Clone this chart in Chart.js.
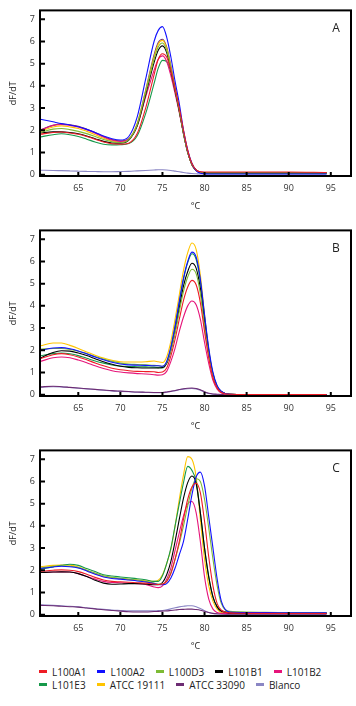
<!DOCTYPE html>
<html>
<head>
<meta charset="utf-8">
<script src="https://cdn.jsdelivr.net/npm/chart.js@4.4.1/dist/chart.umd.min.js"></script>
<style>
  body { margin: 0; background: #fff; }
  #wrap { position: relative; width: 356px; height: 706px; }
  canvas { position: absolute; left: 0; }
  #legend { position: absolute; left: 39px; top: 665px; font: 10px "Open Sans", sans-serif; color: #222; }
  .row { display: flex; height: 13px; align-items: center; }
  .item { display: flex; align-items: center; margin-right: 11px; }
  .swatch { width: 8px; height: 2.5px; margin-right: 5px; }
</style>
</head>
<body>
<div id="wrap">
  <canvas id="chartA" width="356" height="220" style="top:0"></canvas>
  <canvas id="chartB" width="356" height="220" style="top:220px"></canvas>
  <canvas id="chartC" width="356" height="220" style="top:440px"></canvas>
  <div id="legend"></div>
</div>
<script>
// melt curve temperatures (°C), shared by all three panels
var temps = [60.5, 62, 63, 64, 65, 66, 67, 68, 69, 70, 71, 72, 73, 74, 74.5, 75, 75.5, 76, 76.5, 77,
             77.5, 78, 78.5, 79, 79.5, 80, 80.5, 81, 81.5, 82, 83, 85, 90, 94.5];

var seriesNames = ["L100A1", "L100A2", "L100D3", "L101B1", "L101B2", "L101E3", "ATCC 19111", "ATCC 33090", "Blanco"];
var seriesColors = ["#ee1c25", "#1010ff", "#7dbb35", "#000000", "#e6157a", "#16994a", "#ffc400", "#6d2c73", "#8a86c4"];

var xTicks = [65, 70, 75, 80, 85, 90, 95];
var yTicks = [0, 1, 2, 3, 4, 5, 6, 7];

// panel A, one row per series (same order as seriesNames)
var curvesA = [
  [1.82, 1.9, 1.92, 1.88, 1.82, 1.72, 1.6, 1.47, 1.39, 1.37, 1.42, 1.85, 3.0, 4.5, 5.2, 5.45, 5.3, 4.7, 3.9, 3.0, 2.0, 1.1, 0.5, 0.22, 0.13, 0.12, 0.12, 0.12, 0.12, 0.12, 0.12, 0.12, 0.12, 0.1],
  [2.5, 2.38, 2.3, 2.24, 2.16, 2.04, 1.9, 1.74, 1.62, 1.56, 1.72, 2.6, 4.3, 6.0, 6.5, 6.67, 6.2, 5.3, 4.2, 3.2, 2.0, 1.1, 0.5, 0.18, 0.06, 0.04, 0.03, 0.03, 0.03, 0.03, 0.03, 0.03, 0.03, 0.03],
  [1.9, 2.05, 2.08, 2.03, 1.95, 1.85, 1.72, 1.58, 1.48, 1.44, 1.58, 2.25, 3.7, 5.2, 5.75, 5.93, 5.6, 4.8, 3.85, 2.9, 1.85, 1.0, 0.45, 0.2, 0.1, 0.08, 0.08, 0.08, 0.08, 0.08, 0.08, 0.08, 0.08, 0.08],
  [1.88, 1.93, 1.93, 1.9, 1.84, 1.74, 1.62, 1.5, 1.43, 1.42, 1.56, 2.2, 3.6, 5.05, 5.6, 5.8, 5.5, 4.7, 3.8, 2.85, 1.85, 1.0, 0.45, 0.2, 0.1, 0.08, 0.08, 0.08, 0.08, 0.08, 0.08, 0.08, 0.08, 0.08],
  [2.0, 2.22, 2.26, 2.22, 2.15, 2.02, 1.87, 1.7, 1.56, 1.5, 1.6, 2.2, 3.5, 4.7, 5.2, 5.35, 5.1, 4.45, 3.65, 2.8, 1.85, 1.0, 0.45, 0.2, 0.12, 0.1, 0.1, 0.1, 0.1, 0.1, 0.1, 0.1, 0.1, 0.1],
  [1.7, 1.8, 1.84, 1.8, 1.72, 1.6, 1.47, 1.37, 1.34, 1.35, 1.4, 1.75, 2.75, 4.1, 4.8, 5.15, 5.1, 4.6, 3.8, 2.95, 1.95, 1.05, 0.5, 0.2, 0.1, 0.07, 0.06, 0.06, 0.06, 0.06, 0.06, 0.06, 0.06, 0.06],
  [1.95, 2.15, 2.2, 2.15, 2.08, 1.95, 1.8, 1.64, 1.52, 1.47, 1.6, 2.3, 3.75, 5.3, 5.88, 6.05, 5.7, 4.85, 3.9, 2.9, 1.85, 1.0, 0.45, 0.2, 0.1, 0.08, 0.08, 0.08, 0.08, 0.08, 0.08, 0.08, 0.08, 0.08],
  [2.02, 2.22, 2.28, 2.25, 2.18, 2.05, 1.9, 1.72, 1.58, 1.52, 1.62, 2.3, 3.8, 5.4, 5.95, 6.1, 5.75, 4.9, 3.9, 2.9, 1.85, 1.0, 0.45, 0.2, 0.12, 0.1, 0.1, 0.1, 0.1, 0.1, 0.1, 0.1, 0.1, 0.08],
  [0.2, 0.19, 0.18, 0.17, 0.16, 0.15, 0.14, 0.13, 0.13, 0.14, 0.15, 0.17, 0.19, 0.21, 0.22, 0.22, 0.21, 0.19, 0.16, 0.13, 0.1, 0.07, 0.05, 0.04, 0.03, 0.03, 0.03, 0.03, 0.03, 0.03, 0.03, 0.03, 0.03, 0.03]
];

// panel B
var curvesB = [
  [1.62, 1.8, 1.85, 1.8, 1.7, 1.57, 1.43, 1.3, 1.19, 1.12, 1.08, 1.05, 1.04, 1.03, 1.0, 1.02, 1.2, 1.75, 2.5, 3.4, 4.25, 4.85, 5.15, 4.95, 4.15, 2.85, 1.65, 0.75, 0.3, 0.1, 0.02, 0.01, 0.01, 0.01],
  [2.0, 2.1, 2.12, 2.07, 1.97, 1.84, 1.7, 1.57, 1.46, 1.38, 1.34, 1.33, 1.32, 1.3, 1.3, 1.28, 1.5, 2.15, 3.1, 4.2, 5.25, 6.0, 6.42, 6.2, 5.2, 3.6, 2.1, 1.0, 0.4, 0.15, 0.02, 0.01, 0.01, 0.01],
  [2.05, 2.08, 2.08, 2.04, 1.96, 1.85, 1.72, 1.6, 1.5, 1.42, 1.38, 1.36, 1.34, 1.32, 1.3, 1.28, 1.45, 2.0, 2.8, 3.75, 4.65, 5.3, 5.65, 5.45, 4.55, 3.1, 1.8, 0.85, 0.33, 0.12, 0.02, 0.01, 0.01, 0.01],
  [1.65, 1.9, 1.98, 1.96, 1.88, 1.76, 1.62, 1.48, 1.37, 1.28, 1.23, 1.21, 1.2, 1.2, 1.2, 1.22, 1.4, 2.0, 2.85, 3.9, 4.9, 5.55, 5.92, 5.7, 4.8, 3.3, 1.9, 0.9, 0.35, 0.13, 0.02, 0.01, 0.01, 0.01],
  [1.5, 1.66, 1.7, 1.66, 1.56, 1.44, 1.3, 1.18, 1.08, 1.02, 0.98, 0.95, 0.93, 0.9, 0.88, 0.9, 1.05, 1.5, 2.1, 2.85, 3.5, 4.0, 4.22, 4.05, 3.4, 2.35, 1.4, 0.65, 0.25, 0.08, 0.02, 0.01, 0.01, 0.01],
  [1.75, 1.85, 1.88, 1.84, 1.76, 1.64, 1.52, 1.42, 1.34, 1.29, 1.27, 1.26, 1.25, 1.24, 1.22, 1.2, 1.45, 2.1, 3.05, 4.15, 5.2, 5.95, 6.35, 6.1, 5.1, 3.5, 2.0, 0.95, 0.38, 0.14, 0.02, 0.01, 0.01, 0.01],
  [2.2, 2.33, 2.33, 2.22, 2.08, 1.92, 1.78, 1.65, 1.55, 1.48, 1.47, 1.47, 1.48, 1.52, 1.48, 1.45, 1.7, 2.4, 3.4, 4.5, 5.6, 6.4, 6.83, 6.55, 5.4, 3.6, 2.0, 0.9, 0.35, 0.12, 0.02, 0.01, 0.01, 0.01],
  [0.35, 0.38, 0.36, 0.33, 0.3, 0.27, 0.24, 0.21, 0.18, 0.16, 0.14, 0.12, 0.11, 0.1, 0.1, 0.1, 0.12, 0.15, 0.19, 0.23, 0.27, 0.29, 0.3, 0.28, 0.22, 0.13, 0.06, 0.03, 0.02, 0.01, 0.01, 0.01, 0.01, 0.01],
  [0.33, 0.36, 0.35, 0.32, 0.29, 0.26, 0.23, 0.2, 0.17, 0.15, 0.13, 0.11, 0.1, 0.09, 0.09, 0.09, 0.11, 0.14, 0.18, 0.22, 0.25, 0.27, 0.28, 0.26, 0.2, 0.12, 0.05, 0.02, 0.01, 0.01, 0.01, 0.01, 0.01, 0.01]
];

// panel C
var curvesC = [
  [1.95, 2.0, 2.02, 2.0, 1.94, 1.82, 1.68, 1.56, 1.5, 1.48, 1.46, 1.44, 1.42, 1.38, 1.36, 1.38, 1.5, 1.85, 2.5, 3.3, 4.3, 5.2, 5.75, 5.92, 5.5, 4.2, 2.6, 1.3, 0.5, 0.2, 0.08, 0.06, 0.05, 0.05],
  [2.08, 2.15, 2.18, 2.16, 2.1, 1.97, 1.82, 1.7, 1.63, 1.6, 1.56, 1.52, 1.47, 1.4, 1.36, 1.35, 1.4, 1.65, 2.1, 2.7, 3.3, 4.3, 5.4, 6.2, 6.42, 5.8, 4.4, 3.0, 1.6, 0.6, 0.12, 0.1, 0.08, 0.08],
  [2.1, 2.18, 2.2, 2.18, 2.12, 2.0, 1.88, 1.75, 1.68, 1.64, 1.6, 1.56, 1.5, 1.42, 1.38, 1.38, 1.5, 1.9, 2.5, 3.2, 4.0, 4.9, 5.7, 6.12, 6.0, 5.2, 3.9, 2.5, 1.3, 0.5, 0.15, 0.12, 0.1, 0.1],
  [1.9, 1.92, 1.93, 1.92, 1.85, 1.72, 1.55, 1.42, 1.37, 1.38, 1.4, 1.4, 1.38, 1.35, 1.35, 1.45, 1.8, 2.4, 3.3, 4.3, 5.25, 5.95, 6.25, 5.9, 4.6, 3.0, 1.7, 0.8, 0.35, 0.15, 0.08, 0.07, 0.07, 0.07],
  [1.9, 1.92, 1.93, 1.92, 1.85, 1.72, 1.6, 1.5, 1.45, 1.44, 1.42, 1.4, 1.36, 1.25, 1.22, 1.3, 1.6, 2.1, 2.9, 3.7, 4.45, 5.0, 5.1, 4.6, 3.3, 1.7, 0.7, 0.25, 0.1, 0.06, 0.05, 0.05, 0.05, 0.05],
  [2.05, 2.15, 2.22, 2.27, 2.22, 2.08, 1.94, 1.8, 1.74, 1.7, 1.66, 1.62, 1.57, 1.5, 1.5, 1.75, 2.3, 3.0, 4.0, 5.0, 5.95, 6.68, 6.5, 6.0, 4.6, 3.0, 1.7, 0.8, 0.35, 0.18, 0.12, 0.1, 0.08, 0.08],
  [2.16, 2.22, 2.24, 2.23, 2.15, 2.0, 1.85, 1.72, 1.66, 1.62, 1.58, 1.56, 1.53, 1.5, 1.55, 1.8, 2.3, 2.95, 4.0, 5.2, 6.3, 7.12, 7.0, 6.2, 4.3, 2.5, 1.3, 0.6, 0.25, 0.1, 0.05, 0.05, 0.05, 0.05],
  [0.42, 0.4, 0.38, 0.36, 0.34, 0.3, 0.26, 0.22, 0.19, 0.16, 0.13, 0.12, 0.12, 0.14, 0.15, 0.16, 0.17, 0.19, 0.21, 0.23, 0.24, 0.25, 0.25, 0.23, 0.2, 0.15, 0.1, 0.06, 0.04, 0.03, 0.02, 0.02, 0.02, 0.02],
  [0.45, 0.42, 0.4, 0.38, 0.35, 0.31, 0.27, 0.24, 0.21, 0.19, 0.17, 0.17, 0.17, 0.17, 0.18, 0.19, 0.22, 0.26, 0.31, 0.35, 0.38, 0.4, 0.4, 0.36, 0.28, 0.18, 0.1, 0.05, 0.03, 0.03, 0.03, 0.03, 0.03, 0.03]
];

var fontFamily = '"Open Sans", sans-serif';

// box around the plot, inward tick marks and the panel letter
var framePlugin = {
  id: 'frame',
  afterDraw: function(chart, args, opts) {
    var ctx = chart.ctx, a = chart.chartArea;
    var xs = chart.scales.x, ys = chart.scales.y;
    ctx.save();
    ctx.strokeStyle = '#000';
    ctx.lineWidth = 2;
    ctx.strokeRect(a.left, a.top, a.right - a.left, a.bottom - a.top);
    ctx.beginPath();
    xs.ticks.forEach(function(t) {
      var px = xs.getPixelForValue(t.value);
      ctx.moveTo(px, a.bottom);
      ctx.lineTo(px, a.bottom - 4);
    });
    ys.ticks.forEach(function(t) {
      var py = ys.getPixelForValue(t.value);
      ctx.moveTo(a.left, py);
      ctx.lineTo(a.left + 5, py);
    });
    ctx.stroke();
    ctx.fillStyle = '#222';
    ctx.font = '12px ' + fontFamily;
    ctx.textAlign = 'center';
    ctx.textBaseline = 'middle';
    ctx.fillText(opts.letter, a.right - 15, a.top + 18);
    ctx.restore();
  }
};

function makeChart(id, curves, letter) {
  var datasets = seriesNames.map(function(name, i) {
    return {
      label: name,
      data: temps.map(function(t, j) { return { x: t, y: curves[i][j] }; }),
      borderColor: seriesColors[i],
      borderWidth: 1.1,
      pointRadius: 0,
      cubicInterpolationMode: 'monotone',
      fill: false
    };
  });

  return new Chart(document.getElementById(id), {
    type: 'line',
    data: { datasets: datasets },
    options: {
      responsive: false,
      animation: false,
      events: [],
      layout: { padding: { left: 0, right: 5, top: 7, bottom: 4 } },
      plugins: {
        legend: { display: false },
        tooltip: { enabled: false },
        frame: { letter: letter }
      },
      scales: {
        x: {
          type: 'linear',
          min: 60.45,
          max: 97.4,
          afterBuildTicks: function(s) { s.ticks = xTicks.map(function(v) { return { value: v }; }); },
          afterFit: function(s) { s.height = 40; },
          grid: { display: false, drawTicks: false },
          border: { display: false },
          ticks: { padding: 7, maxRotation: 0, color: '#333', font: { family: fontFamily, size: 9 } },
          title: { display: true, text: '°C', color: '#222', font: { family: fontFamily, size: 9 }, padding: { top: 0, bottom: 4 } }
        },
        y: {
          min: -0.06,
          max: 7.4,
          afterBuildTicks: function(s) { s.ticks = yTicks.map(function(v) { return { value: v }; }); },
          afterFit: function(s) { s.width = 40; },
          grid: { display: false, drawTicks: false },
          border: { display: false },
          ticks: { padding: 5, color: '#333', font: { family: fontFamily, size: 9 } },
          title: { display: true, text: 'dF/dT', color: '#222', font: { family: fontFamily, size: 9 }, padding: { top: 8, bottom: 0 } }
        }
      }
    },
    plugins: [framePlugin]
  });
}

makeChart('chartA', curvesA, 'A');
makeChart('chartB', curvesB, 'B');
makeChart('chartC', curvesC, 'C');

// legend: two rows, first five then four
var legend = document.getElementById('legend');
[[0, 5], [5, 9]].forEach(function(r) {
  var row = document.createElement('div');
  row.className = 'row';
  for (var i = r[0]; i < r[1]; i++) {
    var item = document.createElement('span');
    item.className = 'item';
    var sw = document.createElement('span');
    sw.className = 'swatch';
    sw.style.background = seriesColors[i];
    item.appendChild(sw);
    item.appendChild(document.createTextNode(seriesNames[i]));
    row.appendChild(item);
  }
  legend.appendChild(row);
});
</script>
</body>
</html>
